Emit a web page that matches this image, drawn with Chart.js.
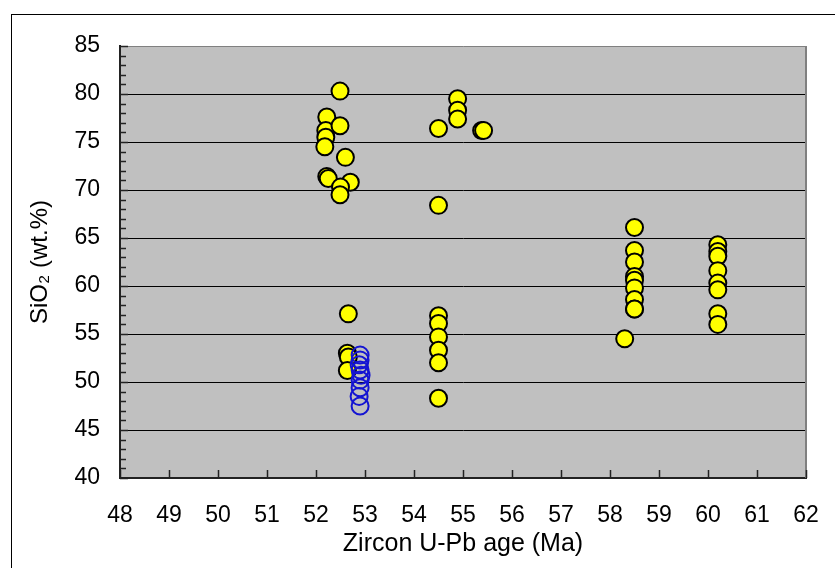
<!DOCTYPE html>
<html>
<head>
<meta charset="utf-8">
<title>SiO2 vs zircon age</title>
<script src="https://cdn.jsdelivr.net/npm/chart.js@4/dist/chart.umd.min.js"></script>
<style>
    body { margin: 0; background: #fff; overflow: hidden; }
    canvas { display: block; }
</style>
</head>
<body>
<canvas id="ageChart" width="835" height="568"></canvas>
<script>
// Yellow samples: zircon U-Pb age (Ma) and SiO2 (wt.%)
const yellowAge = [
    52.49, 52.22, 52.2, 52.2, 52.49, 52.18, 52.6, 52.22, 52.25, 52.7, 52.5, 52.49,
    52.66, 52.64, 52.66, 52.64,
    54.5, 54.5, 54.5, 54.5, 54.5, 54.5, 54.5, 54.5,
    54.89, 54.89, 54.89, 55.38, 55.42,
    58.5, 58.5, 58.5, 58.5, 58.5, 58.5, 58.5, 58.5, 58.5, 58.3,
    60.2, 60.2, 60.2, 60.2, 60.2, 60.2, 60.2, 60.2
];
const yellowSiO2 = [
    80.3, 77.6, 76.2, 75.5, 76.7, 74.5, 73.4, 71.4, 71.2, 70.8, 70.3, 69.5,
    57.1, 53.0, 52.6, 51.2,
    76.4, 68.4, 56.9, 56.1, 54.7, 53.3, 52.0, 48.3,
    79.5, 78.3, 77.4, 76.2, 76.2,
    66.1, 63.7, 62.5, 61.0, 60.6, 59.8, 58.6, 57.6, 57.6, 54.5,
    64.3, 63.6, 63.1, 61.6, 60.3, 59.6, 57.1, 56.0
];

// Blue open circles
const blueAge = [52.9, 52.9, 52.88, 52.9, 52.92, 52.9, 52.9, 52.88, 52.9];
const blueSiO2 = [52.8, 52.3, 51.8, 51.25, 50.7, 50.2, 49.4, 48.5, 47.5];

// Axis settings
const xMin = 48, xMax = 62, xStep = 1;
const yMin = 40, yMax = 85, yStep = 5;
const xTitle = 'Zircon U-Pb age (Ma)';
const yTitle = 'SiO\u2082 (wt.%)';

const FONT = 'Arial, "Liberation Sans", Helvetica, sans-serif';

function toPoints(xs, ys) {
    return xs.map((x, i) => ({ x: x, y: ys[i] }));
}

// Gray plot area, outer frame, right border, inside ticks
const framePlugin = {
    id: 'frame',
    beforeDraw(chart) {
        const ctx = chart.ctx;
        const a = chart.chartArea;
        ctx.save();
        ctx.fillStyle = '#fff';
        ctx.fillRect(0, 0, chart.width, chart.height);
        ctx.strokeStyle = '#000';
        ctx.lineWidth = 1;
        ctx.strokeRect(11.5, 14.5, 1000, 1000);
        ctx.fillStyle = '#c0c0c0';
        ctx.fillRect(a.left, a.top, a.right - a.left, a.bottom - a.top);
        ctx.restore();
    },
    beforeDatasetsDraw(chart) {
        const ctx = chart.ctx;
        const a = chart.chartArea;
        const xs = chart.scales.x;
        const ys = chart.scales.y;
        ctx.save();
        // right border
        ctx.strokeStyle = '#808080';
        ctx.lineWidth = 2;
        ctx.beginPath();
        ctx.moveTo(a.right, a.top);
        ctx.lineTo(a.right, a.bottom);
        ctx.stroke();
        // inside tick marks
        ctx.strokeStyle = '#222';
        ctx.lineWidth = 1.5;
        ctx.beginPath();
        for (let v = yMin; v <= yMax; v++) {
            const py = Math.round(ys.getPixelForValue(v)) + 0.5;
            const len = v % 5 === 0 ? 8 : 6;
            ctx.moveTo(a.left, py);
            ctx.lineTo(a.left + len, py);
        }
        for (let v = xMin; v <= xMax; v++) {
            const px = Math.round(xs.getPixelForValue(v)) + 0.5;
            ctx.moveTo(px, a.bottom);
            ctx.lineTo(px, a.bottom - 8);
        }
        ctx.stroke();
        ctx.restore();
    }
};

function createChart() {
    const ctx = document.getElementById('ageChart').getContext('2d');

    new Chart(ctx, {
        type: 'scatter',
        data: {
            datasets: [{
                label: 'Blue',
                data: toPoints(blueAge, blueSiO2),
                order: 0,
                pointRadius: 8.5,
                pointBorderWidth: 2,
                pointBackgroundColor: 'rgba(0,0,0,0)',
                pointBorderColor: '#1414d2'
            }, {
                label: 'Yellow',
                data: toPoints(yellowAge, yellowSiO2),
                order: 1,
                pointRadius: 8.5,
                pointBorderWidth: 2,
                pointBackgroundColor: '#ffff00',
                pointBorderColor: '#000'
            }]
        },
        options: {
            responsive: false,
            animation: false,
            layout: {
                padding: { left: 0, top: 46, right: 29, bottom: 0 }
            },
            plugins: {
                legend: { display: false },
                tooltip: { enabled: false }
            },
            scales: {
                x: {
                    type: 'linear',
                    min: xMin,
                    max: xMax,
                    afterFit: scale => {
                        scale.height = 90;
                        scale.paddingLeft = 0;
                        scale.paddingRight = 0;
                    },
                    ticks: {
                        stepSize: xStep,
                        color: '#000',
                        padding: 24,
                        font: { family: FONT, size: 23 }
                    },
                    grid: { display: false, drawTicks: false },
                    border: { display: true, color: '#222', width: 2 },
                    title: {
                        display: true,
                        text: xTitle,
                        color: '#000',
                        padding: { top: 0, bottom: 9 },
                        font: { family: FONT, size: 25 }
                    }
                },
                y: {
                    min: yMin,
                    max: yMax,
                    afterFit: scale => {
                        scale.width = 120;
                        scale.paddingTop = 0;
                        scale.paddingBottom = 0;
                    },
                    ticks: {
                        stepSize: yStep,
                        color: '#000',
                        padding: 20,
                        font: { family: FONT, size: 23 }
                    },
                    grid: {
                        drawTicks: false,
                        lineWidth: 1,
                        color: c => c.tick && c.tick.value === yMax ? '#808080' : '#000'
                    },
                    border: { display: true, color: '#222', width: 2 },
                    title: {
                        display: true,
                        text: yTitle,
                        color: '#000',
                        padding: { top: 26, bottom: 0 },
                        font: { family: FONT, size: 24 }
                    }
                }
            }
        },
        plugins: [framePlugin]
    });
}

document.addEventListener('DOMContentLoaded', createChart);
</script>
</body>
</html>
